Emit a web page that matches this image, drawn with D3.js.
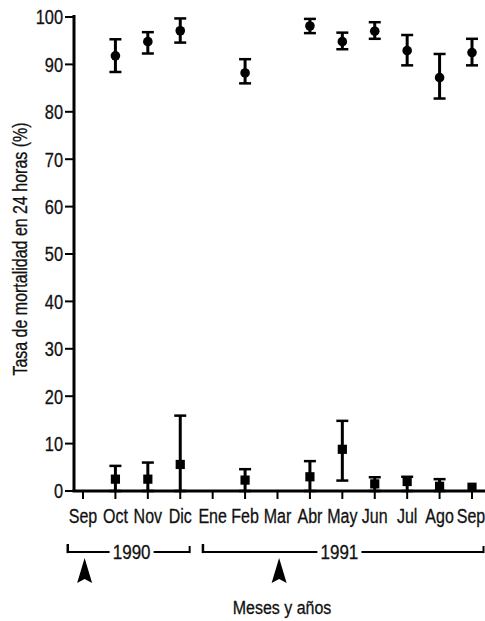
<!DOCTYPE html>
<html>
<head>
<meta charset="utf-8">
<script src="https://cdn.jsdelivr.net/npm/d3@7"></script>
<style>
  body { margin: 0; background: #fff; }
  svg { display: block; }
  text { font-family: "Liberation Sans", Arial, sans-serif; fill: #111; stroke: #111; stroke-width: 0.3px; }
</style>
</head>
<body>
<div id="chart"></div>
<script>
// months on the x axis (Sep 1990 .. Sep 1991)
var months = ['Sep', 'Oct', 'Nov', 'Dic', 'Ene', 'Feb', 'Mar', 'Abr', 'May', 'Jun', 'Jul', 'Ago', 'Sep'];
var yTicks = [0, 10, 20, 30, 40, 50, 60, 70, 80, 90, 100];

// upper series (circles): month index, mean, low, high
var upIdx  = [1, 2, 3, 5, 7, 8, 9, 10, 11, 12];
var upMean = [91.8, 94.8, 97.1, 88.2, 98.1, 94.8, 97.0, 92.9, 87.2, 92.5];
var upLow  = [88.4, 92.3, 94.6, 86.0, 96.6, 93.2, 95.4, 89.8, 82.8, 89.8];
var upHigh = [95.3, 96.8, 99.7, 91.1, 99.6, 96.7, 98.9, 96.2, 92.2, 95.4];

// lower series (squares)
var loIdx  = [1, 2, 3, 5, 7, 8, 9, 10, 11, 12];
var loMean = [2.5, 2.5, 5.6, 2.3, 3.0, 8.8, 1.5, 2.0, 1.0, 0.8];
var loLow  = [0, 0, 0, 0, 0, 2.2, 0, 0, 0, 0.8];
var loHigh = [5.3, 6.0, 15.9, 4.6, 6.3, 14.8, 2.9, 3.0, 2.5, 0.8];

// year brackets and arrows (month index)
var yearLabels = ['1990', '1991'];
var yearFrom = [-0.47, 3.7];
var yearTo   = [3.29, 12.4];
var yearMid  = [1.5, 7.91];
var arrowIdx = [0.05, 6.05];

var W = 485, H = 621;
var svg = d3.select('#chart').append('svg').attr('width', W).attr('height', H);

var x = d3.scaleLinear().domain([0, 12]).range([83, 472]);
var y = d3.scaleLinear().domain([0, 100]).range([491, 17]);
var axisX0 = 74;

// condensed text: regular font squeezed horizontally
function addText(px, py, str, size, sx, anchor, rot) {
  var t = 'translate(' + px + ',' + py + ')' + (rot ? ' rotate(' + rot + ')' : '') + ' scale(' + sx + ',1)';
  return svg.append('text')
    .attr('transform', t)
    .attr('text-anchor', anchor || 'middle')
    .style('font-size', size + 'px')
    .text(str);
}

// y axis
svg.append('line')
  .attr('x1', axisX0).attr('x2', axisX0)
  .attr('y1', y(0) + 1).attr('y2', y(100) - 2)
  .attr('stroke', '#000').attr('stroke-width', 3);

svg.selectAll('.ytick').data(yTicks).enter().append('line')
  .attr('x1', axisX0 - 9).attr('x2', axisX0)
  .attr('y1', d => y(d)).attr('y2', d => y(d))
  .attr('stroke', '#000').attr('stroke-width', 2);

yTicks.forEach(function(d) {
  addText(axisX0 - 11, y(d) + 7.3, d, 20.5, 0.8, 'end');
});

addText(27, 249, 'Tasa de mortalidad en 24 horas (%)', 20.5, 0.78, 'middle', -90);

// x axis
svg.append('line')
  .attr('x1', axisX0 - 1.5).attr('x2', W)
  .attr('y1', y(0)).attr('y2', y(0))
  .attr('stroke', '#000').attr('stroke-width', 3);

svg.selectAll('.xtick').data(months).enter().append('line')
  .attr('x1', (d, i) => x(i)).attr('x2', (d, i) => x(i))
  .attr('y1', y(0)).attr('y2', y(0) + 8)
  .attr('stroke', '#000').attr('stroke-width', 2);

months.forEach(function(m, i) {
  var px = x(i);
  if (i === months.length - 1) px = Math.min(px, W - 14);
  addText(px, 523, m, 20, 0.8, 'middle');
});

// error bars and markers
function drawSeries(idx, mean, low, high, shape) {
  var g = svg.append('g');
  idx.forEach(function(m, i) {
    var cx = x(m);
    if (high[i] > low[i]) {
      g.append('line')
        .attr('x1', cx).attr('x2', cx)
        .attr('y1', y(low[i])).attr('y2', y(high[i]))
        .attr('stroke', '#000').attr('stroke-width', 3);
      [low[i], high[i]].forEach(function(v) {
        g.append('line')
          .attr('x1', cx - 6).attr('x2', cx + 6)
          .attr('y1', y(v)).attr('y2', y(v))
          .attr('stroke', '#000').attr('stroke-width', 2.5);
      });
    }
    if (shape === 'circle') {
      g.append('circle').attr('cx', cx).attr('cy', y(mean[i])).attr('r', 4.8).attr('fill', '#000');
    } else {
      g.append('rect').attr('x', cx - 4.6).attr('y', y(mean[i]) - 4.6)
        .attr('width', 9.2).attr('height', 9.2).attr('fill', '#000');
    }
  });
}
drawSeries(upIdx, upMean, upLow, upHigh, 'circle');
drawSeries(loIdx, loMean, loLow, loHigh, 'square');

// year brackets
var by = 552;
yearLabels.forEach(function(lab, i) {
  var x1 = x(yearFrom[i]), x2 = Math.min(x(yearTo[i]), W - 1.5), xm = x(yearMid[i]);
  var half = 22;
  svg.append('line').attr('x1', x1).attr('x2', xm - half).attr('y1', by).attr('y2', by)
    .attr('stroke', '#000').attr('stroke-width', 2.2);
  svg.append('line').attr('x1', xm + half).attr('x2', x2).attr('y1', by).attr('y2', by)
    .attr('stroke', '#000').attr('stroke-width', 2.2);
  svg.append('line').attr('x1', x1).attr('x2', x1).attr('y1', by + 1.1).attr('y2', by - 8)
    .attr('stroke', '#000').attr('stroke-width', 2.5);
  svg.append('line').attr('x1', x2).attr('x2', x2).attr('y1', by + 1.1).attr('y2', by - 6)
    .attr('stroke', '#000').attr('stroke-width', 2);
  addText(xm, by + 7.2, lab, 20, 0.85, 'middle');
});

// arrows
svg.selectAll('.arrow').data(arrowIdx).enter().append('path')
  .attr('d', function(d) {
    var cx = x(d);
    return 'M' + cx + ',558 L' + (cx + 7.5) + ',583 L' + cx + ',579 L' + (cx - 7.5) + ',583 Z';
  })
  .attr('fill', '#000');

addText(282, 614, 'Meses y años', 18.6, 0.86, 'middle');
</script>
</body>
</html>
